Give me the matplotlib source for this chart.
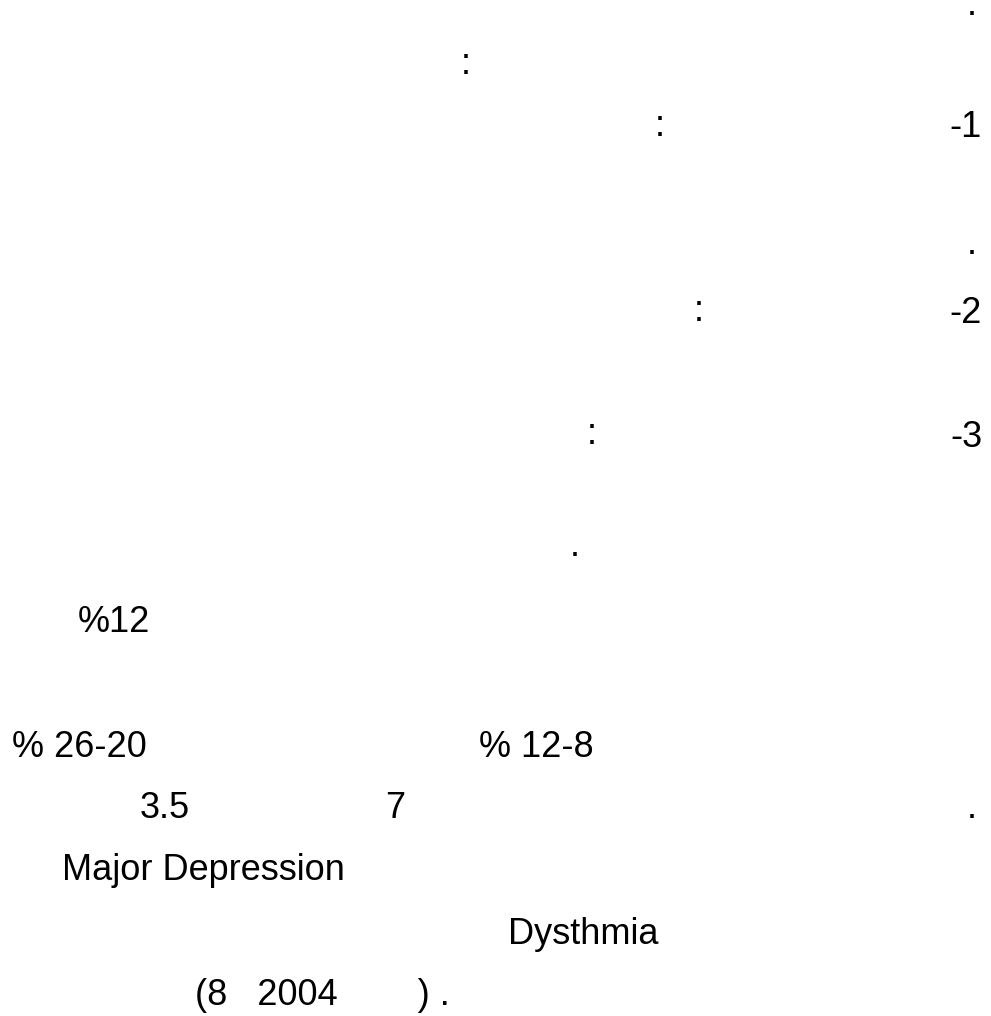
import matplotlib
matplotlib.use("Agg")
import matplotlib.pyplot as plt

# text fragments left on the page (arabic glyphs missing in the source)
numbered = ["-1", "-2", "-3"]
colons = [":", ":", ":", ":"]
periods = [".", ".", ".", "."]
figures = ["%12", "% 26-20", "% 12-8", "3.5", "7"]
terms = ["Major Depression", "Dysthmia"]
citation = "(8   2004        ) ."

W, H = 991, 1016

# ================= LAYOUT (pixels, baseline) =================
numbered_pos = [(982, 137), (982, 323), (982, 447)]
colon_pos = [(466, 74), (660, 136), (699, 321), (592, 444)]
period_pos = [(972, 15), (972, 254), (575, 556), (972, 818)]
figure_pos = [(78, 632), (12, 757), (479, 757), (140, 818), (385, 818)]
term_pos = [(62, 880), (508, 944)]
citation_pos = (195, 1005)

FONT = ["Liberation Sans", "DejaVu Sans"]
SIZE = 26

fig = plt.figure(figsize=(W / 100, H / 100), dpi=100)
ax = fig.add_axes([0, 0, 1, 1])
ax.set_xlim(0, W)
ax.set_ylim(H, 0)
ax.axis("off")

def put(s, x, y, ha="left"):
    ax.text(x, y, s, ha=ha, va="baseline", fontsize=SIZE, family=FONT, color="black")

for s, (x, y) in zip(numbered, numbered_pos):
    put(s, x, y, ha="right")

for s, (x, y) in zip(colons, colon_pos):
    put(s, x, y, ha="center")

for s, (x, y) in zip(periods, period_pos):
    put(s, x, y, ha="center")

for s, (x, y) in zip(figures, figure_pos):
    put(s, x, y)

for s, (x, y) in zip(terms, term_pos):
    put(s, x, y)

put(citation, *citation_pos)

fig.savefig("out.png", dpi=100, facecolor="white")
